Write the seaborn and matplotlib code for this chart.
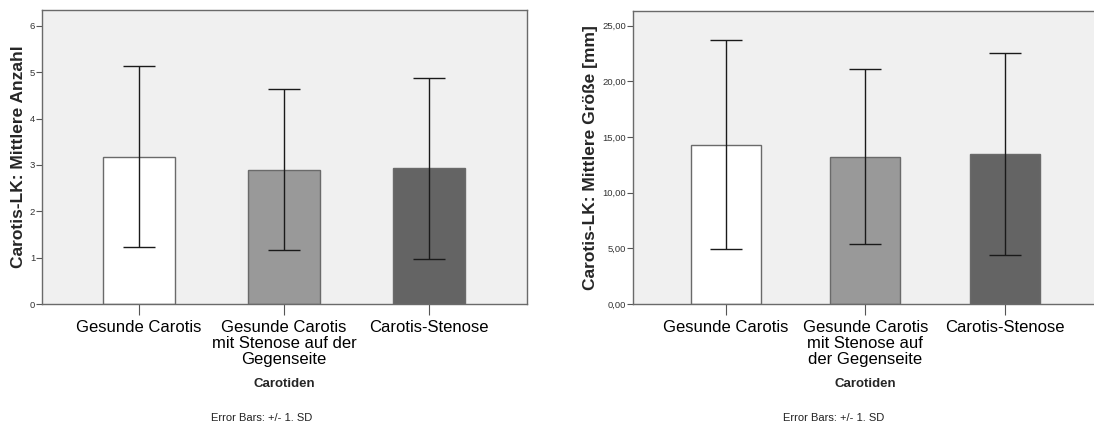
import numpy as np
import pandas as pd
import matplotlib
matplotlib.use("Agg")
import matplotlib.pyplot as plt
import seaborn as sns

# data
groups = ["Gesunde Carotis", "Gesunde Carotis mit Stenose", "Carotis-Stenose"]
labels_left = ["Gesunde Carotis", "Gesunde Carotis\nmit Stenose auf der\nGegenseite", "Carotis-Stenose"]
labels_right = ["Gesunde Carotis", "Gesunde Carotis\nmit Stenose auf\nder Gegenseite", "Carotis-Stenose"]
anzahl_mean = [3.18, 2.90, 2.93]
anzahl_sd = [1.96, 1.73, 1.95]
groesse_mean = [14.31, 13.23, 13.48]
groesse_sd = [9.38, 7.88, 9.08]
bar_colors = ["#ffffff", "#999999", "#646464"]

sns.set_theme(style="white")
plt.rcParams['font.family'] = ['Liberation Sans', 'DejaVu Sans']

fig = plt.figure(figsize=(10.94, 4.23), dpi=100)
W, H = 1094, 423
ax1 = fig.add_axes([42 / W, (H - 304) / H, 485 / W, 294 / H])
ax2 = fig.add_axes([632.7 / W, (H - 304) / H, (W - 632.7) / W, 293.3 / H])


def draw(ax, means, sds, labels, ylabel, ylim, yticks, ticktext, xlim):
    df = pd.DataFrame({"grp": groups, "val": means})
    sns.barplot(data=df, x="grp", y="val", hue="grp", palette=bar_colors,
                legend=False, width=0.5, edgecolor="#6a6a6a", linewidth=1.0, ax=ax)
    ax.errorbar(np.arange(len(means)), means, yerr=sds, fmt="none",
                ecolor="#1a1a1a", elinewidth=1.0, capsize=11.5, capthick=1.0)
    ax.set_facecolor("#f0f0f0")
    ax.set_xlim(*xlim)
    ax.set_ylim(*ylim)
    ax.set_yticks(yticks)
    ax.set_yticklabels(ticktext, fontsize=6.8, color="#333333")
    ax.set_xticks(range(3))
    ax.set_xticklabels(labels, fontsize=12, color="black", linespacing=1.08, va="top")
    ax.tick_params(axis="y", direction="out", length=4, width=0.8, color="#555555", pad=1, left=True)
    ax.tick_params(axis="x", direction="out", length=8, width=0.8, color="#555555", pad=3.5, bottom=True)
    ax.set_xlabel("")
    ax.set_ylabel(ylabel, fontsize=12.5, fontweight="bold", labelpad=3)
    for s in ax.spines.values():
        s.set_color("#6a6a6a")
        s.set_linewidth(1.0)


ticks_l = [0, 1, 2, 3, 4, 5, 6]
ticks_r = [0, 5, 10, 15, 20, 25]
draw(ax1, anzahl_mean, anzahl_sd, labels_left, "Carotis-LK: Mittlere Anzahl",
     (0, 6.34), ticks_l, [str(t) for t in ticks_l], (-0.669, 2.676))
draw(ax2, groesse_mean, groesse_sd, labels_right, "Carotis-LK: Mittlere Größe [mm]",
     (0, 26.35), ticks_r, [f"{t:.2f}".replace(".", ",") for t in ticks_r], (-0.667, 2.64))
ax2.spines["right"].set_visible(False)

for xc in (284, 865):
    fig.text(xc / W, 1 - 384 / H, "Carotiden", ha="center", va="center",
             fontsize=9.5, fontweight="bold")
for xc in (262, 834):
    fig.text(xc / W, 1 - 418 / H, "Error Bars: +/- 1. SD", ha="center", va="center",
             fontsize=8, color="#222222")

fig.savefig("out.png", dpi=100)
